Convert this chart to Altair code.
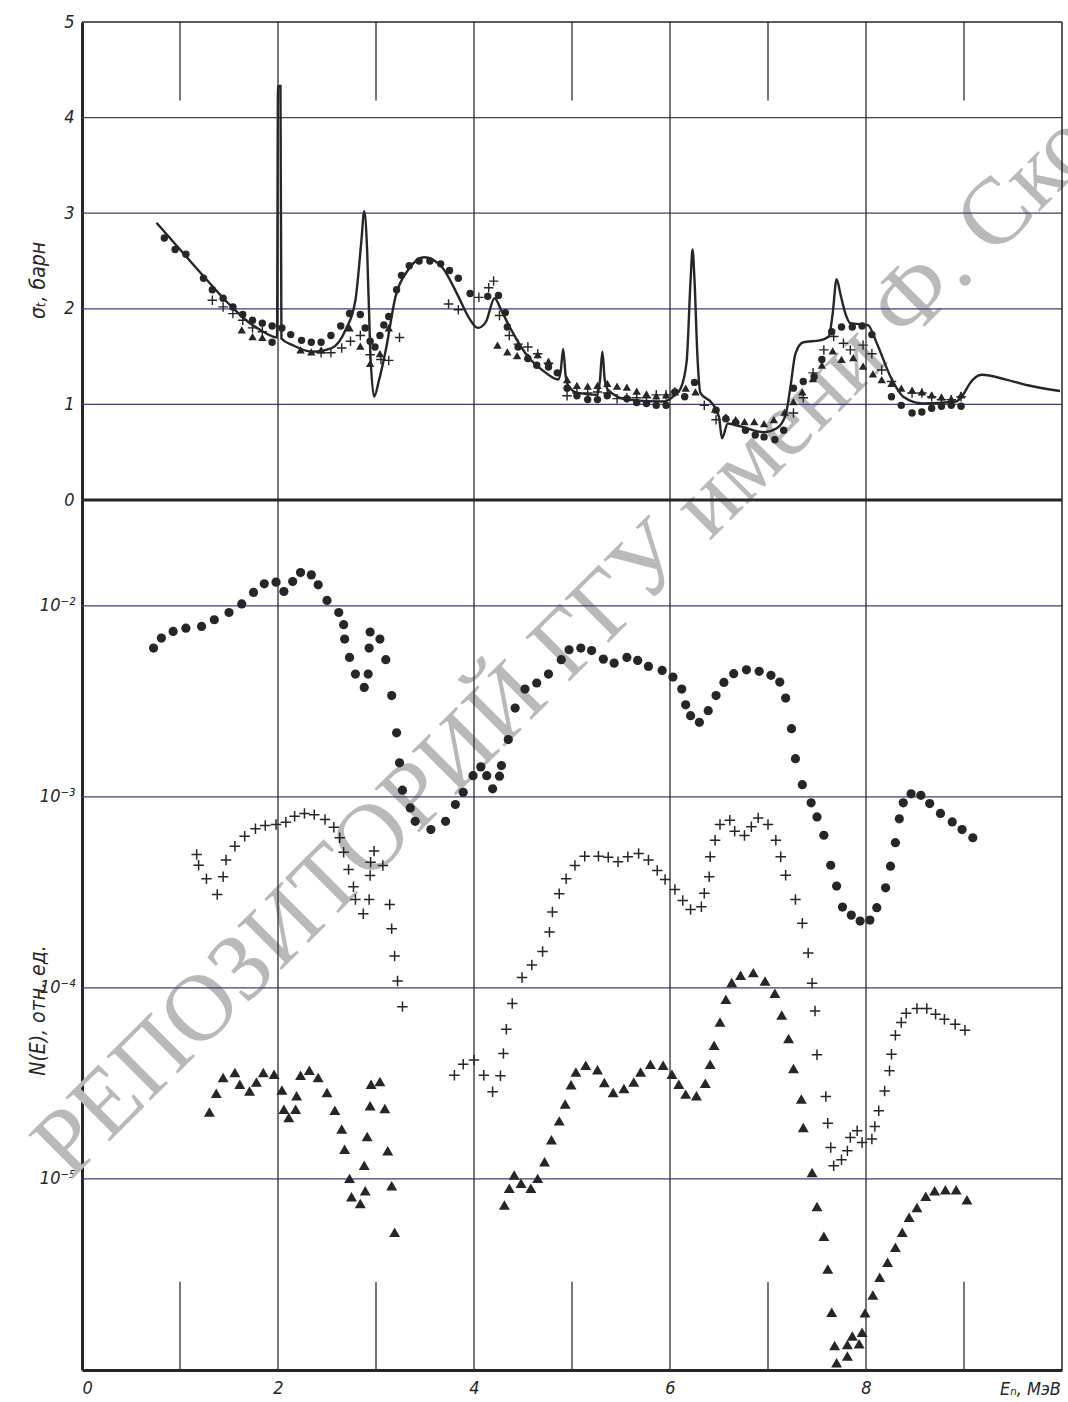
import altair as alt
import pandas as pd

# ---------------- data ----------------
# top panel: total cross-section sigma_t (barn) vs E_n (MeV)
line_x = [0.76, 1.0, 1.25, 1.5, 1.7, 1.85, 1.95, 1.99, 2.0, 2.025, 2.035, 2.15, 2.35, 2.55, 2.69, 2.79,
          2.85, 2.88, 2.91, 2.94, 2.98, 3.03, 3.10, 3.20, 3.33, 3.49, 3.67, 3.84, 3.94, 4.04, 4.12,
          4.21, 4.28, 4.38, 4.55, 4.72, 4.86, 4.885, 4.91, 4.935, 4.96, 5.06, 5.26, 5.285, 5.31,
          5.335, 5.37, 5.57, 5.94, 6.05, 6.11, 6.17, 6.21, 6.23, 6.25, 6.28, 6.31, 6.43, 6.50,
          6.53, 6.59, 6.72, 6.96, 7.09, 7.18, 7.23, 7.28, 7.36, 7.53, 7.62, 7.66, 7.70, 7.74,
          7.79, 7.84, 8.02, 8.11, 8.25, 8.38, 8.58, 8.92, 8.99, 9.06, 9.18, 9.43, 9.65, 9.98]
line_y = [2.90, 2.62, 2.33, 2.05, 1.86, 1.76, 1.71, 1.70, 4.33, 4.33, 1.69, 1.62, 1.55, 1.59, 1.78, 2.09,
          2.70, 3.02, 2.60, 1.60, 1.08, 1.25, 1.57, 2.13, 2.41, 2.54, 2.44, 2.13, 1.92, 1.80, 1.86,
          2.11, 1.98, 1.78, 1.50, 1.34, 1.26, 1.35, 1.58, 1.30, 1.20, 1.12, 1.10, 1.25, 1.55,
          1.25, 1.15, 1.05, 1.03, 1.10, 1.17, 1.45, 2.30, 2.62, 2.30, 1.50, 1.12, 1.01, 0.87,
          0.645, 0.80, 0.77, 0.71, 0.75, 0.89, 1.19, 1.53, 1.65, 1.67, 1.71, 1.95, 2.31, 2.15,
          1.95, 1.85, 1.83, 1.64, 1.29, 1.08, 1.01, 1.03, 1.10, 1.22, 1.31, 1.26, 1.20, 1.14]

top_circ_x = [0.84, 0.95, 1.06, 1.24, 1.33, 1.44, 1.54, 1.64, 1.74, 1.84, 1.94, 1.94, 2.04, 2.13, 2.24,
              2.34, 2.44, 2.54, 2.64, 2.73, 2.84, 2.89, 2.94, 2.99, 3.04, 3.08, 3.13, 3.21, 3.26,
              3.34, 3.44, 3.55, 3.66, 3.75, 3.84, 3.96, 4.14, 4.25, 4.32, 4.34, 4.45, 4.55, 4.64,
              4.76, 4.85, 4.95, 5.05, 5.16, 5.26, 5.36, 5.56, 5.66, 5.76, 5.86, 5.96, 6.05, 6.15,
              6.25, 6.47, 6.57, 6.67, 6.77, 6.87, 6.96, 7.07, 7.16, 7.26, 7.36, 7.47, 7.55, 7.65,
              7.75, 7.86, 7.96, 8.06, 8.26, 8.36, 8.47, 8.57, 8.67, 8.77, 8.87, 8.97]
top_circ_y = [2.74, 2.62, 2.57, 2.32, 2.20, 2.11, 2.02, 1.94, 1.88, 1.85, 1.82, 1.65, 1.80, 1.73, 1.67,
              1.65, 1.65, 1.72, 1.82, 1.95, 1.94, 1.80, 1.66, 1.60, 1.72, 1.83, 1.92, 2.20, 2.35,
              2.45, 2.50, 2.50, 2.47, 2.40, 2.32, 2.16, 2.13, 2.14, 1.96, 1.81, 1.60, 1.48, 1.41,
              1.39, 1.33, 1.17, 1.09, 1.05, 1.05, 1.09, 1.06, 1.02, 1.01, 0.99, 0.99, 1.13, 1.08,
              1.23, 0.94, 0.85, 0.81, 0.73, 0.68, 0.66, 0.63, 0.73, 1.17, 1.24, 1.29, 1.47, 1.76,
              1.81, 1.81, 1.82, 1.73, 1.08, 0.99, 0.91, 0.92, 0.96, 0.98, 0.99, 0.98]

top_plus_x = [1.33, 1.44, 1.54, 1.64, 1.74, 1.84, 2.44, 2.54, 2.65, 2.74, 2.84, 2.94, 3.05, 3.13, 3.24,
              3.74, 3.84, 4.05, 4.15, 4.20, 4.26, 4.36, 4.45, 4.55, 4.65, 4.76, 4.95, 5.05, 5.16,
              5.26, 5.36, 5.46, 5.56, 5.66, 5.76, 5.86, 5.96, 6.05, 6.35, 6.47, 7.26, 7.36, 7.46,
              7.57, 7.67, 7.77, 7.84, 7.97, 8.06, 8.16, 8.26, 8.47, 8.57, 8.67, 8.77, 8.87, 8.97]
top_plus_y = [2.09, 2.02, 1.95, 1.88, 1.80, 1.76, 1.54, 1.54, 1.59, 1.66, 1.72, 1.52, 1.47, 1.46, 1.70,
              2.05, 1.99, 2.12, 2.22, 2.29, 1.93, 1.72, 1.63, 1.60, 1.53, 1.43, 1.09, 1.12, 1.12,
              1.13, 1.12, 1.06, 1.07, 1.07, 1.07, 1.10, 1.10, 1.13, 0.99, 0.84, 0.91, 1.07, 1.33,
              1.57, 1.71, 1.64, 1.57, 1.62, 1.53, 1.36, 1.24, 1.12, 1.12, 1.08, 1.05, 1.05, 1.08]

top_tri_x = [1.63, 1.74, 1.84, 2.23, 2.34, 2.44, 2.73, 2.84, 2.94, 3.04, 3.13, 4.24, 4.34, 4.44, 4.55,
             4.65, 4.76, 4.95, 5.05, 5.16, 5.26, 5.36, 5.46, 5.56, 5.66, 5.76, 5.86, 5.96, 6.05,
             6.16, 6.26, 6.46, 6.57, 6.67, 6.76, 6.86, 6.96, 7.06, 7.17, 7.26, 7.35, 7.46, 7.55,
             7.66, 7.75, 7.87, 7.97, 8.07, 8.16, 8.26, 8.36, 8.47, 8.57, 8.67, 8.77, 8.87, 8.97]
top_tri_y = [1.78, 1.71, 1.70, 1.57, 1.55, 1.57, 1.80, 1.61, 1.43, 1.53, 1.80, 1.62, 1.55, 1.51, 1.50,
             1.52, 1.45, 1.26, 1.20, 1.19, 1.20, 1.22, 1.19, 1.18, 1.14, 1.11, 1.09, 1.10, 1.13,
             1.17, 1.13, 0.95, 0.87, 0.84, 0.82, 0.82, 0.80, 0.84, 0.92, 1.03, 1.13, 1.27, 1.41,
             1.56, 1.47, 1.49, 1.40, 1.32, 1.26, 1.22, 1.17, 1.15, 1.13, 1.10, 1.08, 1.06, 1.10]

# bottom panel: N(E), relative units (decimal exponents)
bot_circ_x = [0.73, 0.81, 0.93, 1.06, 1.22, 1.35, 1.50, 1.63, 1.75, 1.86, 1.98, 2.06, 2.15, 2.23, 2.34,
              2.41, 2.50, 2.62, 2.67, 2.68, 2.73, 2.79, 2.88, 2.92, 2.93, 2.94, 3.04, 3.10, 3.16,
              3.21, 3.24, 3.27, 3.35, 3.40, 3.56, 3.71, 3.81, 3.89, 3.99, 4.07, 4.13, 4.19, 4.26,
              4.28, 4.35, 4.42, 4.52, 4.64, 4.76, 4.89, 4.97, 5.09, 5.20, 5.32, 5.43, 5.56, 5.67,
              5.78, 5.92, 6.03, 6.12, 6.16, 6.21, 6.30, 6.39, 6.47, 6.55, 6.65, 6.78, 6.91, 7.03,
              7.12, 7.18, 7.24, 7.28, 7.35, 7.44, 7.50, 7.57, 7.64, 7.70, 7.76, 7.85, 7.94, 8.04,
              8.11, 8.20, 8.25, 8.30, 8.34, 8.38, 8.46, 8.56, 8.65, 8.76, 8.88, 8.98, 9.09]
bot_circ_e = [-2.221, -2.169, -2.134, -2.117, -2.108, -2.073, -2.035, -1.990, -1.930, -1.885, -1.876,
              -1.925, -1.873, -1.826, -1.838, -1.890, -1.972, -2.035, -2.099, -2.174, -2.270, -2.357,
              -2.427, -2.357, -2.221, -2.137, -2.174, -2.282, -2.470, -2.665, -2.822, -2.965, -3.058,
              -3.128, -3.171, -3.128, -3.040, -2.976, -2.889, -2.843, -2.889, -2.958, -2.892, -2.836,
              -2.700, -2.535, -2.436, -2.404, -2.357, -2.282, -2.230, -2.221, -2.234, -2.279, -2.300,
              -2.270, -2.286, -2.317, -2.338, -2.373, -2.436, -2.518, -2.575, -2.610, -2.549, -2.470,
              -2.401, -2.355, -2.335, -2.343, -2.364, -2.399, -2.483, -2.643, -2.800, -2.936, -3.031,
              -3.105, -3.201, -3.358, -3.467, -3.577, -3.619, -3.650, -3.645, -3.580, -3.476, -3.363,
              -3.240, -3.115, -3.031, -2.984, -2.992, -3.035, -3.087, -3.131, -3.171, -3.214]

bot_plus_x = [1.17, 1.19, 1.27, 1.38, 1.44, 1.47, 1.56, 1.66, 1.77, 1.87, 1.98, 2.08, 2.17, 2.27, 2.37,
              2.48, 2.57, 2.63, 2.67, 2.72, 2.77, 2.79, 2.87, 2.93, 2.94, 2.945, 2.98, 3.07, 3.14,
              3.16, 3.19, 3.22, 3.27, 3.80, 3.89, 4.00, 4.10, 4.19, 4.27, 4.30, 4.33, 4.39, 4.49,
              4.59, 4.70, 4.77, 4.80, 4.87, 4.94, 5.03, 5.13, 5.27, 5.37, 5.47, 5.57, 5.68, 5.78,
              5.87, 5.95, 6.05, 6.13, 6.21, 6.32, 6.35, 6.40, 6.41, 6.46, 6.51, 6.61, 6.66, 6.76,
              6.83, 6.90, 7.00, 7.08, 7.13, 7.18, 7.28, 7.35, 7.41, 7.45, 7.48, 7.50, 7.59, 7.61,
              7.64, 7.67, 7.75, 7.81, 7.84, 7.91, 7.96, 8.06, 8.09, 8.13, 8.19, 8.24, 8.26, 8.30,
              8.36, 8.41, 8.52, 8.62, 8.71, 8.80, 8.91, 9.01]
bot_plus_e = [-3.302, -3.358, -3.429, -3.511, -3.418, -3.331, -3.258, -3.206, -3.167, -3.150, -3.145,
              -3.133, -3.101, -3.087, -3.093, -3.119, -3.159, -3.214, -3.290, -3.380, -3.471, -3.537,
              -3.612, -3.537, -3.411, -3.342, -3.284, -3.359, -3.563, -3.690, -3.833, -3.964, -4.098,
              -4.457, -4.399, -4.378, -4.457, -4.544, -4.460, -4.343, -4.216, -4.081, -3.946, -3.880,
              -3.810, -3.708, -3.603, -3.507, -3.429, -3.359, -3.311, -3.311, -3.316, -3.340, -3.314,
              -3.296, -3.331, -3.385, -3.432, -3.485, -3.542, -3.589, -3.575, -3.505, -3.418, -3.314,
              -3.227, -3.145, -3.122, -3.180, -3.202, -3.157, -3.110, -3.145, -3.227, -3.314, -3.410,
              -3.537, -3.662, -3.817, -3.975, -4.121, -4.350, -4.568, -4.708, -4.835, -4.931, -4.900,
              -4.853, -4.783, -4.748, -4.809, -4.791, -4.725, -4.643, -4.539, -4.434, -4.347, -4.248,
              -4.181, -4.133, -4.108, -4.108, -4.138, -4.164, -4.190, -4.222]

bot_tri_x = [1.30, 1.37, 1.44, 1.56, 1.61, 1.71, 1.78, 1.85, 1.96, 2.04, 2.06, 2.11, 2.18, 2.19, 2.23,
             2.32, 2.41, 2.50, 2.58, 2.65, 2.68, 2.73, 2.75, 2.84, 2.89, 2.88, 2.91, 2.94, 2.95,
             3.04, 3.09, 3.12, 3.16, 3.19, 4.31, 4.36, 4.41, 4.48, 4.58, 4.65, 4.72, 4.79, 4.87,
             4.93, 4.99, 5.04, 5.14, 5.26, 5.33, 5.42, 5.53, 5.63, 5.70, 5.80, 5.93, 6.02, 6.09,
             6.16, 6.27, 6.36, 6.41, 6.45, 6.51, 6.57, 6.63, 6.72, 6.85, 6.97, 7.07, 7.14, 7.21,
             7.26, 7.34, 7.36, 7.45, 7.50, 7.57, 7.61, 7.65, 7.68, 7.70, 7.81, 7.81, 7.86, 7.93,
             7.96, 7.99, 8.07, 8.14, 8.22, 8.30, 8.37, 8.44, 8.52, 8.61, 8.70, 8.81, 8.92, 9.03]
bot_tri_e = [-4.649, -4.551, -4.469, -4.443, -4.504, -4.539, -4.492, -4.443, -4.452, -4.534, -4.635,
             -4.678, -4.635, -4.565, -4.457, -4.431, -4.469, -4.548, -4.640, -4.739, -4.844, -4.997,
             -5.093, -5.128, -5.062, -4.928, -4.778, -4.617, -4.504, -4.490, -4.631, -4.852, -5.035,
             -5.279, -5.136, -5.049, -4.979, -5.023, -5.049, -4.997, -4.910, -4.795, -4.696, -4.608,
             -4.507, -4.440, -4.405, -4.429, -4.495, -4.547, -4.526, -4.492, -4.440, -4.399, -4.405,
             -4.452, -4.504, -4.556, -4.565, -4.499, -4.399, -4.300, -4.178, -4.060, -3.972, -3.934,
             -3.920, -3.964, -4.028, -4.142, -4.265, -4.422, -4.582, -4.731, -4.966, -5.144, -5.300,
             -5.471, -5.698, -5.872, -5.962, -5.927, -5.866, -5.822, -5.863, -5.802, -5.701, -5.607,
             -5.514, -5.436, -5.358, -5.279, -5.201, -5.149, -5.091, -5.062, -5.056, -5.056, -5.109]

x_grid = [2, 4, 6, 8]
x_labels = [0, 2, 4, 6, 8]
odd_x = [1, 3, 5, 7, 9]
sigma_ticks = [0, 1, 2, 3, 4, 5]
sigma_grid = [1, 2, 3, 4]
n_ticks = [1e-2, 1e-3, 1e-4, 1e-5]
x_range = [0, 10]
sigma_range = [0, 5]
n_range = [1e-6, 0.0358]
odd_tick_top = [4.18, 5]
odd_tick_bottom = [1e-6, 2.9e-6]
# scan watermark (runs off the sheet at the right), anchored at its left end
watermark_text = ["РЕПОЗИТОРИЙ ГГУ имени Ф. Скорины"]
watermark_at = [-0.33, 1.25e-5]

# ---------------- styling / layout ----------------
INK = "#262626"
HGRID = "#3d3f70"
VGRID = "#2e2e2e"
WM = "#b9b9b9"
FONT = "Liberation Sans Narrow, DejaVu Sans Condensed, Liberation Sans, sans-serif"
WMFONT = "Liberation Serif, DejaVu Serif, serif"
PAGE_W, PAGE_H = 1068, 1402
PLOT_L, PLOT_R, PLOT_T, PLOT_MID, PLOT_B = 82, 1062, 22, 500, 1370
PLUS = "M-1,0L1,0M0,-1L0,1"

XS = alt.Scale(domain=x_range, range=[PLOT_L, PLOT_R], nice=False, zero=False)
TS = alt.Scale(domain=sigma_range, range=[PLOT_MID, PLOT_T], nice=False, zero=False)
BS = alt.Scale(type="log", domain=n_range, range=[PLOT_B, PLOT_MID], nice=False)

top_y_axis = alt.Axis(orient="left", offset=-PLOT_L, title="σₜ, барн", values=sigma_ticks,
                      format="d", grid=False, ticks=False, domain=True, domainWidth=3,
                      domainColor=INK, labelFont=FONT, labelFontStyle="italic", labelFontSize=18,
                      labelColor=INK, labelPadding=8, titleFont=FONT, titleFontStyle="italic",
                      titleFontWeight="normal", titleFontSize=21, titleColor=INK, titleAngle=270,
                      titleX=-44, titleY=280, titleAlign="center", titleBaseline="middle")
bot_y_axis = alt.Axis(orient="left", offset=-PLOT_L, title="N(E), отн. ед.", values=n_ticks,
                      grid=False, ticks=False, domain=True, domainWidth=3, domainColor=INK,
                      labelFont=FONT, labelFontStyle="italic", labelFontSize=18, labelColor=INK,
                      labelPadding=7,
                      labelExpr="datum.value > 0.005 ? '10⁻²' : datum.value > 0.0005 ? '10⁻³' : datum.value > 0.00005 ? '10⁻⁴' : '10⁻⁵'",
                      titleFont=FONT, titleFontStyle="italic", titleFontWeight="normal",
                      titleFontSize=21, titleColor=INK, titleAngle=270, titleX=-44, titleY=1010,
                      titleAlign="center", titleBaseline="middle")
x_axis = alt.Axis(orient="bottom", offset=-(PAGE_H - PLOT_B), title="Eₙ, МэВ", values=x_labels,
                  format="d", labelFlush=True, grid=False, ticks=False, domain=True, domainWidth=3,
                  domainColor=INK, labelFont=FONT, labelFontStyle="italic", labelFontSize=18,
                  labelColor=INK, labelPadding=9, titleFont=FONT, titleFontStyle="italic",
                  titleFontWeight="normal", titleFontSize=18, titleColor=INK, titleX=1030,
                  titleY=19, titleAlign="center", titleBaseline="middle", titleAngle=0)


def xq(field):
    # every layer carries the same x axis so the shared axis merges into one
    return alt.X(field, scale=XS, axis=x_axis)


def ty(field, axis=None):
    return alt.Y(field, scale=TS, axis=axis)


def by(field, axis=None):
    return alt.Y(field, scale=BS, axis=axis)


# watermark
wm = alt.Chart(pd.DataFrame({"x": [watermark_at[0]], "n": [watermark_at[1]], "t": watermark_text})
               ).mark_text(font=WMFONT, fontSize=95, angle=315, color=WM, align="left",
                           baseline="middle", clip=True).encode(
    x=xq("x:Q"), y=by("n:Q"), text="t:N")

# grid lines and frame
g_top_h = alt.Chart(pd.DataFrame({"y": sigma_grid, "x0": [x_range[0]] * 4, "x1": [x_range[1]] * 4})
                    ).mark_rule(color=HGRID, strokeWidth=1.2).encode(x=xq("x0:Q"), x2="x1:Q", y=ty("y:Q"))
g_top_v = alt.Chart(pd.DataFrame({"x": x_grid, "y0": [sigma_range[0]] * 4, "y1": [sigma_range[1]] * 4})
                    ).mark_rule(color=VGRID, strokeWidth=1.3).encode(x=xq("x:Q"), y=ty("y0:Q"), y2="y1:Q")
g_bot_h = alt.Chart(pd.DataFrame({"n": n_ticks, "x0": [x_range[0]] * 4, "x1": [x_range[1]] * 4})
                    ).mark_rule(color=HGRID, strokeWidth=1.2).encode(x=xq("x0:Q"), x2="x1:Q", y=by("n:Q"))
g_bot_v = alt.Chart(pd.DataFrame({"x": x_grid, "n0": [n_range[0]] * 4, "n1": [n_range[1]] * 4})
                    ).mark_rule(color=VGRID, strokeWidth=1.3).encode(x=xq("x:Q"), y=by("n0:Q"), y2="n1:Q")
t_top = alt.Chart(pd.DataFrame({"x": odd_x, "y0": [odd_tick_top[0]] * 5, "y1": [odd_tick_top[1]] * 5})
                  ).mark_rule(color=VGRID, strokeWidth=1.3).encode(x=xq("x:Q"), y=ty("y0:Q"), y2="y1:Q")
t_bot = alt.Chart(pd.DataFrame({"x": odd_x, "n0": [odd_tick_bottom[0]] * 5, "n1": [odd_tick_bottom[1]] * 5})
                  ).mark_rule(color=VGRID, strokeWidth=1.3).encode(x=xq("x:Q"), y=by("n0:Q"), y2="n1:Q")
f_top = alt.Chart(pd.DataFrame({"y": [sigma_range[1]], "x0": [x_range[0]], "x1": [x_range[1]]})
                  ).mark_rule(color=INK, strokeWidth=1.5).encode(x=xq("x0:Q"), x2="x1:Q", y=ty("y:Q"))
f_mid = alt.Chart(pd.DataFrame({"y": [sigma_range[0]], "x0": [x_range[0]], "x1": [x_range[1]]})
                  ).mark_rule(color=INK, strokeWidth=2.8).encode(x=xq("x0:Q"), x2="x1:Q", y=ty("y:Q"))
f_right_t = alt.Chart(pd.DataFrame({"x": [x_range[1]], "y0": [sigma_range[0]], "y1": [sigma_range[1]]})
                      ).mark_rule(color=INK, strokeWidth=1.5).encode(x=xq("x:Q"), y=ty("y0:Q"), y2="y1:Q")
f_right_b = alt.Chart(pd.DataFrame({"x": [x_range[1]], "n0": [n_range[0]], "n1": [n_range[1]]})
                      ).mark_rule(color=INK, strokeWidth=1.5).encode(x=xq("x:Q"), y=by("n0:Q"), y2="n1:Q")

# top panel data
top_line = alt.Chart(pd.DataFrame({"x": line_x, "y": line_y})).mark_line(
    color=INK, strokeWidth=2.4, interpolate="monotone").encode(
    x=xq("x:Q"), y=ty("y:Q", top_y_axis))
top_c = alt.Chart(pd.DataFrame({"x": top_circ_x, "y": top_circ_y})).mark_point(
    shape="circle", filled=True, size=55, color=INK, opacity=1).encode(x=xq("x:Q"), y=ty("y:Q"))
top_p = alt.Chart(pd.DataFrame({"x": top_plus_x, "y": top_plus_y})).mark_point(
    shape=PLUS, filled=False, size=90, color=INK, strokeWidth=1.4, opacity=1).encode(
    x=xq("x:Q"), y=ty("y:Q"))
top_t = alt.Chart(pd.DataFrame({"x": top_tri_x, "y": top_tri_y})).mark_point(
    shape="triangle-up", filled=True, size=70, color=INK, opacity=1).encode(
    x=xq("x:Q"), y=ty("y:Q"))


# bottom panel data
def bot_points(xs, es, axis_y=None, **mark):
    df = pd.DataFrame({"x": xs, "e": es})
    return alt.Chart(df).transform_calculate(n="pow(10, datum.e)").mark_point(**mark).encode(
        x=xq("x:Q"), y=by("n:Q", axis_y))


bc = bot_points(bot_circ_x, bot_circ_e, bot_y_axis, shape="circle", filled=True,
                size=85, color=INK, opacity=1)
bp = bot_points(bot_plus_x, bot_plus_e, shape=PLUS, filled=False, size=110, color=INK,
                strokeWidth=1.5, opacity=1)
bt = bot_points(bot_tri_x, bot_tri_e, shape="triangle-up", filled=True, size=120, color=INK,
                opacity=1)

chart = alt.layer(
    wm, g_top_h, g_top_v, g_bot_h, g_bot_v, t_top, t_bot, f_top, f_right_t, f_right_b,
    top_line, top_c, top_p, top_t, bc, bp, bt, f_mid,
).resolve_scale(y="independent").properties(
    width=PAGE_W, height=PAGE_H, autosize=alt.AutoSizeParams(type="none"), padding=0,
    background="white",
).configure_view(stroke=None)

chart.save("out.html", embed_options={"renderer": "svg", "actions": False})
